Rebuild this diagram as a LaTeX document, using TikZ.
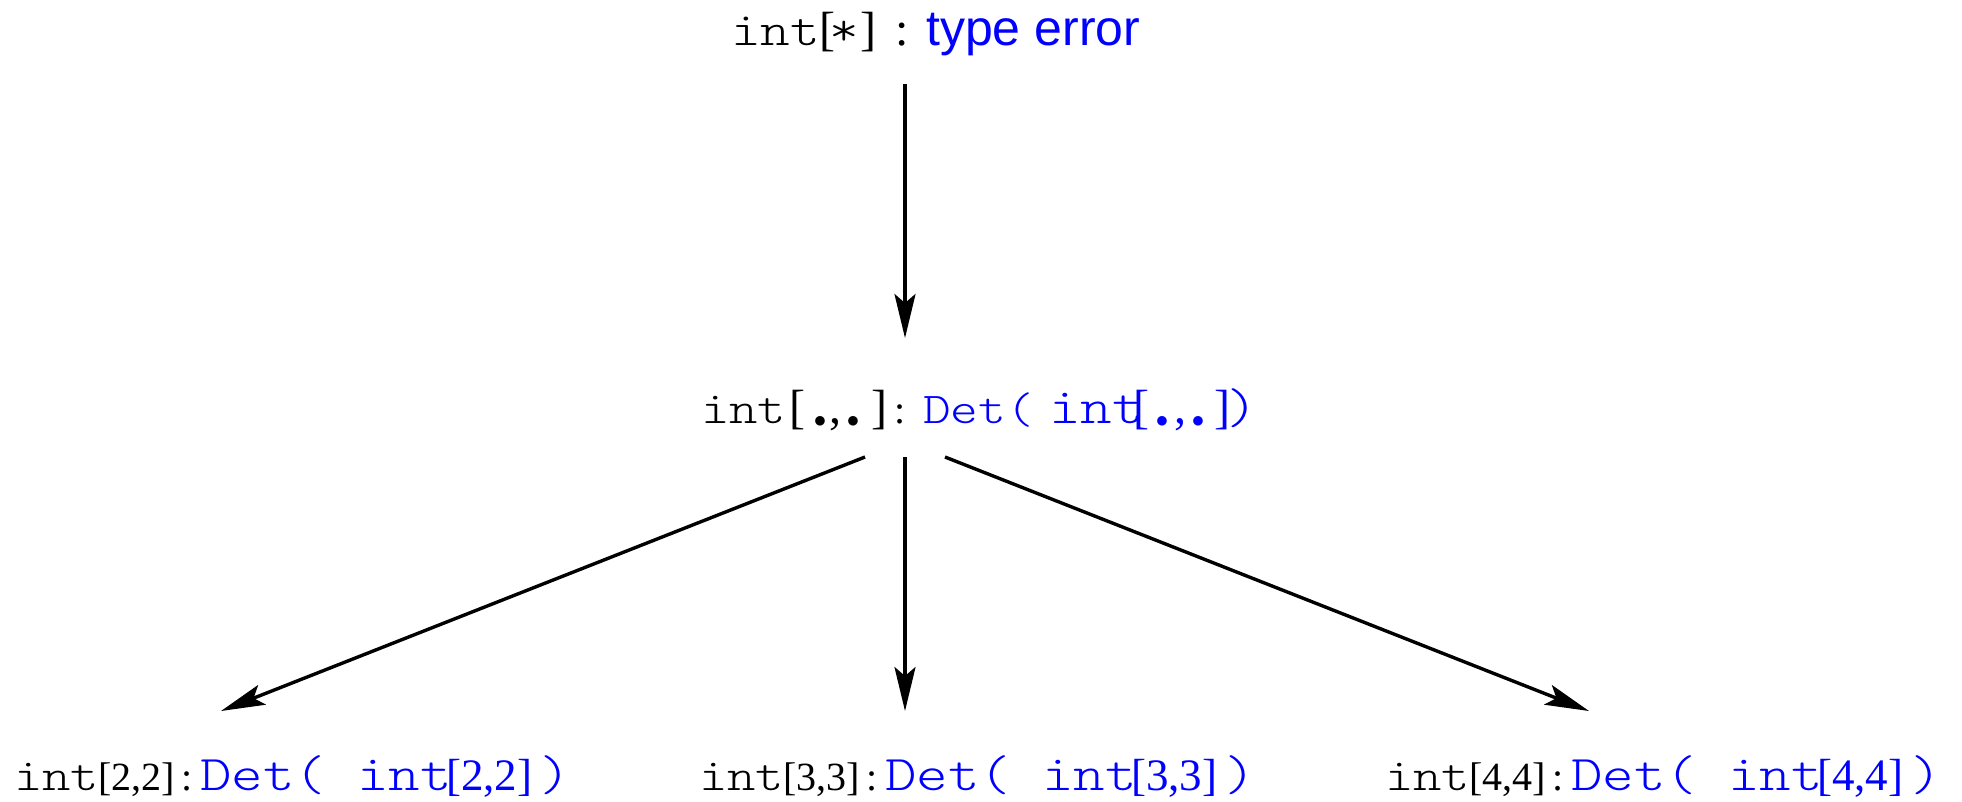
\documentclass[tikz,border=0pt]{standalone}
\usepackage{fontspec}
\setmainfont{Liberation Serif}
\newfontfamily\monof[FakeStretch=1.2]{lmmonolt10-regular.otf}
\newfontfamily\sansf{Liberation Sans}
\usetikzlibrary{arrows.meta}
\definecolor{tblue}{RGB}{0,0,255}
\tikzset{
  lbl/.style={anchor=base west, inner sep=0pt},
  conn/.style={line width=3.4pt, -{Stealth[length=44pt,width=21pt,inset=9pt]}}
}
\newcommand{\kmono}[1]{{\monof\fontsize{45}{48}\selectfont #1}}
\newcommand{\tmono}[1]{{\monof\fontsize{47}{48}\selectfont #1}}
\newcommand{\bmono}[1]{{\monof\fontsize{50}{48}\selectfont #1}}
\newcommand{\mmono}[1]{{\monof\fontsize{44}{48}\selectfont #1}}
\newcommand{\kser}[1]{{\fontsize{40}{48}\selectfont #1}}
\newcommand{\tser}[1]{{\fontsize{48}{48}\selectfont #1}}
\newcommand{\mser}[1]{{\fontsize{48}{48}\selectfont #1}}
\newcommand{\bser}[1]{{\fontsize{45}{48}\selectfont #1}}
\newcommand{\bigbul}{\raisebox{-4pt}{\fontsize{64}{64}\selectfont$\bullet$}}
\newcommand{\pc}[2]{\makebox[#1pt][l]{#2}}
\newcommand{\cc}[2]{\makebox[#1pt][c]{#2}}
\newcommand{\botlbl}[1]{\pc{84}{\kmono{int}}\pc{76}{\kser{[#1]}}\cc{26}{\kser{:}}\textcolor{tblue}{\pc{157}{\bmono{Det(}}\pc{89}{\bmono{int}}\pc{93}{\bser{[#1]}}\bmono{)}}}
\begin{document}
\begin{tikzpicture}[x=1pt,y=-1pt]
\useasboundingbox (0,0) rectangle (1962,801);
\node[lbl] (top) at (731,45) {\pc{88}{\tmono{int}}\pc{10}{\tser{[}}\pc{31}{\tmono{*}}\pc{28}{\tser{]}}\cc{28}{\tser{:}}\hspace{10pt}\textcolor{tblue}{\sansf\fontsize{50}{56}\selectfont type error}};
\node[lbl] (mid) at (701,423) {\pc{88}{\kmono{int}}\mser{\cc{17}{[}\cc{28}{\bigbul}\cc{2}{,}\cc{34}{\bigbul}\cc{18}{]}}\cc{24}{\kser{:}}\hspace{11pt}\textcolor{tblue}{\pc{126}{\mmono{Det(}}\pc{84}{\bmono{int}}\mser{\cc{16}{[}\cc{26}{\bigbul}\cc{10}{,}\cc{26}{\bigbul}\cc{22}{]}}\cc{19}{\bmono{)}}}};
\node[lbl] (b1) at (14,790) {\botlbl{2,2}};
\node[lbl] (b2) at (699,790) {\botlbl{3,3}};
\node[lbl] (b3) at (1385,790) {\botlbl{4,4}};
\coordinate (t0) at (905,84);
\coordinate (t1) at (905,338);
\coordinate (m0) at (905,457);
\coordinate (m1) at (905,711);
\coordinate (l0) at (865,457);
\coordinate (l1) at (221,711);
\coordinate (r0) at (945,457);
\coordinate (r1) at (1589,711);
\draw[conn] (t0) -- (t1);
\draw[conn] (m0) -- (m1);
\draw[conn] (l0) -- (l1);
\draw[conn] (r0) -- (r1);
\end{tikzpicture}
\end{document}
